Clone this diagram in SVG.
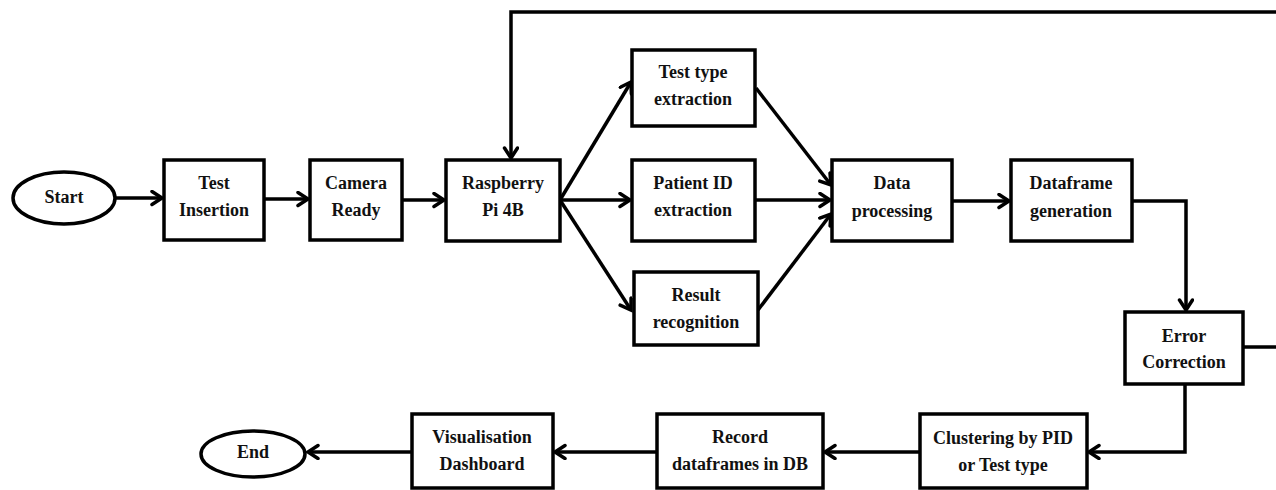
<svg xmlns="http://www.w3.org/2000/svg" width="1276" height="490" viewBox="0 0 1276 490">
<defs>
<marker id="arr" markerUnits="userSpaceOnUse" markerWidth="16" markerHeight="18" refX="12" refY="8" orient="auto">
<path d="M2,1.5 L12,8 L2,14.5" fill="none" stroke="#000" stroke-width="3.5" stroke-linecap="round" stroke-linejoin="miter"/>
</marker>
</defs>
<style>
.box{fill:#fff;stroke:#000;stroke-width:3.5}
.t{font-family:"Liberation Serif","Times New Roman",serif;font-weight:bold;font-size:18px;fill:#111;text-anchor:middle}
.c{fill:none;stroke:#000;stroke-width:3.5;marker-end:url(#arr)}
</style>
<rect width="1276" height="490" fill="#fff"/>
<g id="connectors">
<line class="c" x1="115" y1="198" x2="162" y2="198"/>
<line class="c" x1="264" y1="199" x2="308" y2="199"/>
<line class="c" x1="402" y1="200" x2="444" y2="200"/>
<line class="c" x1="560" y1="200" x2="631" y2="82"/>
<line class="c" x1="560" y1="200" x2="630" y2="200"/>
<line class="c" x1="560" y1="200" x2="631" y2="310"/>
<line class="c" x1="756" y1="88" x2="831" y2="185"/>
<line class="c" x1="756" y1="200" x2="830" y2="200"/>
<line class="c" x1="758" y1="310" x2="831" y2="214"/>
<line class="c" x1="952" y1="201" x2="1009" y2="201"/>
<polyline class="c" points="1132,201 1186,201 1186,310"/>
<polyline class="c" points="1185,384 1185,452 1089,452"/>
<line class="c" x1="920" y1="452" x2="825" y2="452"/>
<line class="c" x1="657" y1="452" x2="555" y2="452"/>
<line class="c" x1="412" y1="452" x2="308" y2="452"/>
<polyline class="c" points="1243,347 1282,347 1282,12 511,12 511,158"/>
</g>
<g id="start"><ellipse class="box" cx="64" cy="198" rx="51" ry="26"/><text class="t" x="64" y="203">Start</text></g>
<g id="test-insertion"><rect class="box" x="164" y="160" width="100" height="80"/><text class="t" x="214" y="189">Test</text><text class="t" x="214" y="216">Insertion</text></g>
<g id="camera-ready"><rect class="box" x="310" y="160" width="92" height="80"/><text class="t" x="356" y="189">Camera</text><text class="t" x="356" y="216">Ready</text></g>
<g id="raspberry"><rect class="box" x="446" y="160" width="114" height="81"/><text class="t" x="503" y="189">Raspberry</text><text class="t" x="503" y="216">Pi 4B</text></g>
<g id="test-type"><rect class="box" x="632" y="50" width="123" height="76"/><text class="t" x="693" y="78">Test type</text><text class="t" x="693" y="105">extraction</text></g>
<g id="patient-id"><rect class="box" x="632" y="160" width="123" height="81"/><text class="t" x="693" y="189">Patient ID</text><text class="t" x="693" y="216">extraction</text></g>
<g id="result"><rect class="box" x="634" y="272" width="124" height="73"/><text class="t" x="696" y="301">Result</text><text class="t" x="696" y="328">recognition</text></g>
<g id="data-processing"><rect class="box" x="832" y="160" width="120" height="81"/><text class="t" x="892" y="189">Data</text><text class="t" x="892" y="217">processing</text></g>
<g id="dataframe-generation"><rect class="box" x="1011" y="160" width="121" height="81"/><text class="t" x="1071" y="189">Dataframe</text><text class="t" x="1071" y="217">generation</text></g>
<g id="error-correction"><rect class="box" x="1125" y="312" width="118" height="72"/><text class="t" x="1184" y="342">Error</text><text class="t" x="1184" y="368">Correction</text></g>
<g id="clustering"><rect class="box" x="920" y="414" width="167" height="74"/><text class="t" x="1003" y="444">Clustering by PID</text><text class="t" x="1003" y="471">or Test type</text></g>
<g id="record"><rect class="box" x="657" y="414" width="166" height="74"/><text class="t" x="740" y="443">Record</text><text class="t" x="740" y="470">dataframes in DB</text></g>
<g id="visualisation"><rect class="box" x="412" y="414" width="141" height="74"/><text class="t" x="482" y="443">Visualisation</text><text class="t" x="482" y="470">Dashboard</text></g>
<g id="end"><ellipse class="box" cx="253" cy="454" rx="52" ry="23"/><text class="t" x="253" y="458">End</text></g>
</svg>
